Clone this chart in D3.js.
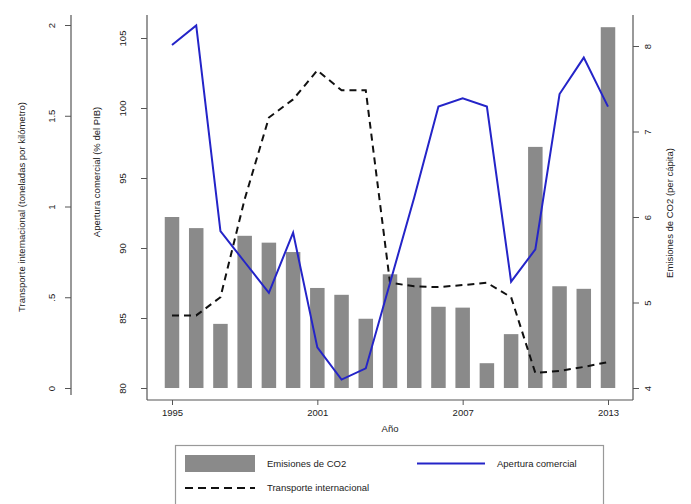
<!DOCTYPE html>
<html>
<head>
<meta charset="utf-8">
<script src="https://cdn.jsdelivr.net/npm/d3@7"></script>
<style>
body{margin:0;background:#fff;}
svg{display:block;font-family:"Liberation Sans",Arial,sans-serif;}
</style>
</head>
<body>
<svg id="chart" width="691" height="504"></svg>
<script>
const years = [1995,1996,1997,1998,1999,2000,2001,2002,2003,2004,2005,2006,2007,2008,2009,2010,2011,2012,2013];
const co2 = [6.00,5.87,4.75,5.78,5.70,5.59,5.17,5.09,4.81,5.33,5.29,4.95,4.94,4.29,4.63,6.82,5.19,5.16,8.22];
const apertura = [104.5,105.9,91.2,89.0,86.8,91.1,82.9,80.6,81.4,87.5,93.6,100.1,100.7,100.1,87.6,89.9,101.0,103.6,100.1];
const transporte = [0.40,0.40,0.50,1.04,1.49,1.59,1.75,1.64,1.64,0.58,0.56,0.556,0.567,0.58,0.50,0.083,0.094,0.116,0.143];
const xTicks = [1995,2001,2007,2013];
const aperturaTicks = [80,85,90,95,100,105];
const transporteTicks = [0,0.5,1,1.5,2];
const transporteLabels = ["0",".5","1","1.5","2"];
const co2Ticks = [4,5,6,7,8];

const svg = d3.select("#chart");
const txt = "#222", axisCol = "#555";
const fs = 9.5;

const x = d3.scaleLinear().domain([1995,2013]).range([172,608]);
const yA = d3.scaleLinear().domain([80,105]).range([388,38]);
const yT = d3.scaleLinear().domain([0,2]).range([388,25]);
const yC = d3.scaleLinear().domain([4,8]).range([388,46]);

const barW = 14.5;
// bars
svg.append("g").selectAll("rect").data(years).join("rect")
  .attr("x", (d)=>x(d)-barW/2)
  .attr("width", barW)
  .attr("y", (d,i)=>yC(co2[i]))
  .attr("height", (d,i)=>yC(4)-yC(co2[i]))
  .attr("fill", "#8a8a8a");

// lines
const lineA = d3.line().x((d,i)=>x(years[i])).y(d=>yA(d));
const lineT = d3.line().x((d,i)=>x(years[i])).y(d=>yT(d));
svg.append("path").datum(transporte).attr("d", lineT)
  .attr("fill","none").attr("stroke","#111").attr("stroke-width",2)
  .attr("stroke-dasharray","7,5");
svg.append("path").datum(apertura).attr("d", lineA)
  .attr("fill","none").attr("stroke","#2424c8").attr("stroke-width",2)
  .attr("stroke-linejoin","miter");

function styleAxis(g){
  g.select(".domain").remove();
  g.selectAll(".tick line").attr("stroke", axisCol);
  g.selectAll("text").attr("fill", txt).style("font-size", fs+"px");
}

// Transporte axis (far left)
const gT = svg.append("g").attr("transform","translate(71,0)")
  .call(d3.axisLeft(yT).tickValues(transporteTicks).tickSize(6).tickFormat((d,i)=>transporteLabels[i]));
styleAxis(gT);
gT.selectAll("text").attr("transform","rotate(-90)").attr("x",0).attr("y",-19).attr("dy","0.35em").attr("text-anchor","middle");
gT.append("line").attr("x1",0).attr("x2",0).attr("y1",15).attr("y2",395).attr("stroke",axisCol).attr("stroke-width",1.2);

// Apertura axis
const gA = svg.append("g").attr("transform","translate(147,0)")
  .call(d3.axisLeft(yA).tickValues(aperturaTicks).tickSize(6).tickFormat(d3.format("d")));
styleAxis(gA);
gA.selectAll("text").attr("transform","rotate(-90)").attr("x",0).attr("y",-24).attr("dy","0.35em").attr("text-anchor","middle");
gA.append("line").attr("x1",0).attr("x2",0).attr("y1",15).attr("y2",400).attr("stroke",axisCol).attr("stroke-width",1.2);

// CO2 axis (right)
const gC = svg.append("g").attr("transform","translate(633,0)")
  .call(d3.axisRight(yC).tickValues(co2Ticks).tickSize(6).tickFormat(d3.format("d")));
styleAxis(gC);
gC.selectAll("text").attr("transform","rotate(-90)").attr("x",0).attr("y",15).attr("dy","0.35em").attr("text-anchor","middle");
gC.append("line").attr("x1",0).attr("x2",0).attr("y1",15).attr("y2",400).attr("stroke",axisCol).attr("stroke-width",1.2);

// X axis
const gX = svg.append("g").attr("transform","translate(0,400)")
  .call(d3.axisBottom(x).tickValues(xTicks).tickSize(5).tickFormat(d3.format("d")));
styleAxis(gX);
gX.selectAll("text").attr("y",9);
gX.append("line").attr("x1",147).attr("x2",633).attr("y1",0).attr("y2",0).attr("stroke",axisCol).attr("stroke-width",1.2);

// axis titles
svg.append("text").attr("transform","translate(390,429)").attr("text-anchor","middle")
  .attr("dy","0.35em").attr("fill",txt).style("font-size",fs+"px").text("Año");
svg.append("text").attr("transform","translate(22,207) rotate(-90)").attr("text-anchor","middle")
  .attr("dy","0.35em").attr("fill",txt).style("font-size",fs+"px").text("Transporte internacional (toneladas por kilómetro)");
svg.append("text").attr("transform","translate(97,172) rotate(-90)").attr("text-anchor","middle")
  .attr("dy","0.35em").attr("fill",txt).style("font-size",fs+"px").text("Apertura comercial (% del PIB)");
svg.append("text").attr("transform","translate(670,213) rotate(-90)").attr("text-anchor","middle")
  .attr("dy","0.35em").attr("fill",txt).style("font-size",fs+"px").text("Emisiones de CO2 (per cápita)");

// legend
const lg = svg.append("g");
lg.append("rect").attr("x",175.5).attr("y",445.5).attr("width",428).attr("height",70)
  .attr("fill","#fff").attr("stroke","#999").attr("stroke-width",1.2);
lg.append("rect").attr("x",185).attr("y",455).attr("width",70).attr("height",17).attr("fill","#8a8a8a");
lg.append("text").attr("x",267).attr("y",463.5).attr("dy","0.35em").attr("fill",txt).style("font-size",fs+"px").text("Emisiones de CO2");
lg.append("line").attr("x1",417).attr("x2",485).attr("y1",463.5).attr("y2",463.5).attr("stroke","#2424c8").attr("stroke-width",2);
lg.append("text").attr("x",497).attr("y",463.5).attr("dy","0.35em").attr("fill",txt).style("font-size",fs+"px").text("Apertura comercial");
lg.append("line").attr("x1",185).attr("x2",255).attr("y1",488).attr("y2",488).attr("stroke","#111").attr("stroke-width",2).attr("stroke-dasharray","8,5");
lg.append("text").attr("x",267).attr("y",488).attr("dy","0.35em").attr("fill",txt).style("font-size",fs+"px").text("Transporte internacional");
</script>
</body>
</html>
